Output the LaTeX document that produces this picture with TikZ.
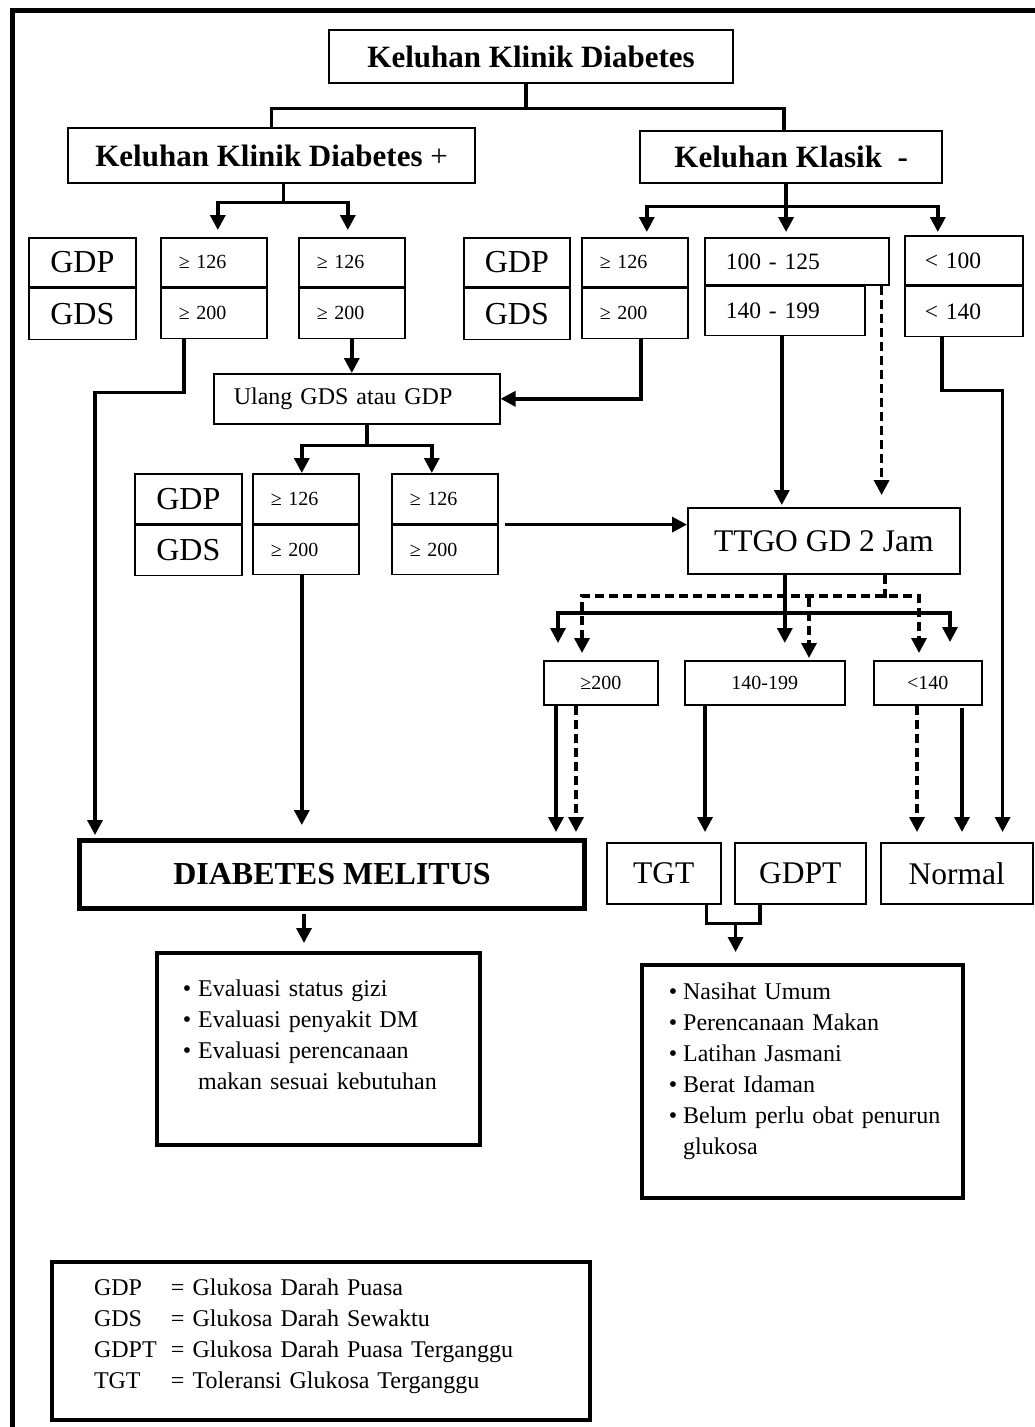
\documentclass[tikz,border=0pt]{standalone}
\usepackage{fontspec}
\setmainfont{Liberation Serif}
\usetikzlibrary{arrows.meta, positioning, calc}

\begin{document}
\begin{tikzpicture}[
  x=1pt, y=-1pt,
  box/.style={rectangle, draw=black, line width=1.6pt, anchor=north west, inner sep=0pt},
  head/.style={box, line width=2.2pt, font=\fontsize{31}{37}\selectfont\bfseries},
  tag/.style={box, minimum width=107pt, font=\fontsize{32}{38}\selectfont},
  cell/.style={box, align=left, inner xsep=18pt, text width=70pt, font=\fontsize{20}{24}\selectfont},
  wide/.style={box, align=left, inner xsep=21pt, font=\fontsize{23.5}{28}\selectfont},
  res/.style={box, font=\fontsize{31.5}{38}\selectfont},
  lvl/.style={box, minimum height=44pt, font=\fontsize{20}{24}\selectfont},
  lst/.style={box, line width=3.5pt, align=left, font=\fontsize{24}{31}\selectfont},
  conn/.style={line width=3.4pt},
  arr/.style={conn, -{Triangle[length=15pt, width=15pt]}},
  both/.style={conn, {Triangle[length=15pt, width=15pt]}-{Triangle[length=15pt, width=15pt]}},
  dconn/.style={conn, dash pattern=on 9pt off 5pt},
  darr/.style={arr, dash pattern=on 9pt off 5pt},
  dboth/.style={both, dash pattern=on 9pt off 5pt}
]
\fill[white] (0,0) rectangle (1035,1427);
\useasboundingbox (0,0) rectangle (1035,1427);
\draw[line width=5pt] (1045,10) -- (12,10) -- (12,1440);

% headers
\node[head, minimum width=404pt, minimum height=53pt] (keluhan) at (328,29) {Keluhan Klinik Diabetes};
\node[head, minimum width=407pt, minimum height=55pt] (kplus) at (67,127) {Keluhan Klinik Diabetes \textnormal{+}};
\node[head, minimum width=302pt, minimum height=52pt] (kmin) at (639,130) {Keluhan Klasik\ \ -};

% first row of values
\node[tag, minimum height=49pt] (gdpA) at (28,237) {GDP};
\node[tag, minimum height=51pt, below=0pt of gdpA] (gdsA) {GDS};
\node[cell, minimum height=49pt] (vA1) at (160,237) {≥ 126};
\node[cell, minimum height=50pt, below=0pt of vA1] (vA2) {≥ 200};
\node[cell, minimum height=49pt] (vB1) at (298,237) {≥ 126};
\node[cell, minimum height=50pt, below=0pt of vB1] (vB2) {≥ 200};
\node[tag, minimum width=106pt, minimum height=49pt] (gdpB) at (463,237) {GDP};
\node[tag, minimum width=106pt, minimum height=51pt, below=0pt of gdpB] (gdsB) {GDS};
\node[cell, minimum height=49pt] (vC1) at (581,237) {≥ 126};
\node[cell, minimum height=50pt, below=0pt of vC1] (vC2) {≥ 200};
\node[wide, text width=142pt, minimum height=47pt] (vD1) at (704,237) {100 - 125};
\node[wide, text width=118pt, minimum height=49pt] (vD2) at (vD1.south west) {140 - 199};
\node[wide, text width=78pt, inner xsep=20pt, minimum height=49pt] (vE1) at (904,235) {< 100};
\node[wide, text width=78pt, inner xsep=20pt, minimum height=50pt, below=0pt of vE1] (vE2) {< 140};

% repeat test
\node[wide, text width=246pt, inner xsep=20pt, minimum height=50pt, font=\fontsize{24}{29}\selectfont] (ulang) at (213,373) {Ulang GDS atau GDP};
\node[tag, minimum height=50pt] (gdpC) at (134,473) {GDP};
\node[tag, minimum height=50pt, below=0pt of gdpC] (gdsC) {GDS};
\node[cell, minimum height=50pt] (vF1) at (252,473) {≥ 126};
\node[cell, minimum height=49pt, below=0pt of vF1] (vF2) {≥ 200};
\node[cell, minimum height=50pt] (vG1) at (391,473) {≥ 126};
\node[cell, minimum height=49pt, below=0pt of vG1] (vG2) {≥ 200};

% glucose tolerance test
\node[res, minimum width=272pt, minimum height=66pt] (ttgo) at (687,507) {TTGO GD 2 Jam};
\node[lvl, minimum width=114pt] (rA) at (543,660) {≥200};
\node[lvl, minimum width=160pt] (rB) at (684,660) {140-199};
\node[lvl, minimum width=108pt] (rC) at (873,660) {<140};

% outcomes
\node[box, line width=5pt, minimum width=505pt, minimum height=68pt, font=\fontsize{32}{38}\selectfont\bfseries] (dm) at (77,838) {DIABETES MELITUS};
\node[res, minimum width=114pt, minimum height=61pt] (tgt) at (606,842) {TGT};
\node[res, minimum width=131pt, minimum height=61pt] (gdpt) at (734,842) {GDPT};
\node[res, minimum width=152pt, minimum height=61pt] (normal) at (880,842) {Normal};

\node[lst, text width=271pt, inner xsep=26pt, text height=44pt, text depth=148pt] (evalL) at (155,951) {%
\begin{tabular}[t]{@{}l@{\hspace{7pt}}l@{}}
•&Evaluasi status gizi\\
•&Evaluasi penyakit DM\\
•&Evaluasi perencanaan\\
 &makan sesuai kebutuhan
\end{tabular}};
\node[lst, text width=267pt, inner xsep=27pt, text height=35pt, text depth=198pt] (evalR) at (640,963) {%
\begin{tabular}[t]{@{}l@{\hspace{6pt}}l@{}}
•&Nasihat Umum\\
•&Perencanaan Makan\\
•&Latihan Jasmani\\
•&Berat Idaman\\
•&Belum perlu obat penurun\\
 &glukosa
\end{tabular}};
\node[lst, line width=4pt, text width=454pt, inner xsep=42pt, text height=33pt, text depth=125pt] (legend) at (50,1260) {%
\begin{tabular}[t]{@{}p{77pt}@{}l@{}}
GDP & = Glukosa Darah Puasa\\
GDS & = Glukosa Darah Sewaktu\\
GDPT & = Glukosa Darah Puasa Terganggu\\
TGT & = Toleransi Glukosa Terganggu
\end{tabular}};

% top split
\draw[conn] ([xshift=-5pt]keluhan.south) -- ++(0,24) coordinate (kt);
\draw[conn] (kplus.north) |- (kt) -| ([xshift=-7pt]kmin.north);

% branch of the positive complaint
\draw[conn] ([xshift=12pt]kplus.south) -- ++(0,18) coordinate (kp);
\draw[arr] (kp) -| ($(vA1.north)+(4,-7)$);
\draw[arr] (kp) -| ($(vB1.north)+(-4,-7)$);
\draw[arr] ($(vA2.south)+(-30,0)$) -- ++(0,53) -| ($(dm.north west)+(18,-3)$);
\draw[arr] (vB2.south) -- (vB2.south |- ulang.north);

% branch of the negative complaint
\draw[conn] ([xshift=-5pt]kmin.south) -- ++(0,22) coordinate (km);
\draw[arr] (km) -| ($(vC1.north)+(12,-5)$);
\draw[arr] (km) -- ($(km |- vD1.north)+(0,-5)$);
\draw[arr] (km) -| ($(vE1.north)+(-26,-3)$);
\draw[arr] ($(vC2.south)+(6,0)$) |- (ulang.east);
\draw[arr] ($(vD2.south)+(-3,0)$) -- ($(vD2.south |- ttgo.north)+(-3,-2)$);
\draw[darr] ($(vD1.south east)+(-8,0)$) -- ($(vD1.south east |- ttgo.north)+(-8,-12)$);
\draw[arr] ($(vE2.south)+(-22,0)$) -- ++(0,53) -| ($(normal.north east)+(-31,-10)$);

% repeated test
\draw[conn] ($(ulang.south)+(10,0)$) -- ++(0,21) coordinate (ub);
\draw[arr] (ub) -| ($(vF1.north)+(-4,0)$);
\draw[arr] (ub) -| ($(vG1.north)+(-13,0)$);
\draw[arr] ($(vF2.south)+(-4,0)$) -- ($(vF2.south |- dm.north)+(-4,-13)$);
\draw[arr] ($(vG1.south east)+(6,0)$) -- (vG1.south east -| ttgo.west);

% results of TTGO
\draw[arr] ($(ttgo.south)+(-39,0)$) -- ($(ttgo.south |- rB.north)+(-39,-17)$);
\draw[both] ($(rA.north west)+(15,-17)$) -- ++(0,-30) -| ($(rC.north west)+(77,-18)$);
\draw[dconn] ($(ttgo.south)+(61,0)$) -- ++(0,23);
\draw[dboth] ($(rA.north west)+(39,-7)$) -- ++(0,-57) -| ($(rC.north west)+(46,-7)$);
\draw[darr] ($(rB.north west)+(125,-62)$) -- ($(rB.north west)+(125,-2)$);

\draw[arr] ($(rA.south west)+(13,0)$) -- ($(rA.south west |- dm.north)+(13,-6)$);
\draw[darr] ($(rA.south west)+(33,0)$) -- ($(rA.south west |- dm.north)+(33,-6)$);
\draw[arr] ($(rB.south west)+(21,0)$) -- ($(rB.south west |- tgt.north)+(21,-10)$);
\draw[darr] ($(rC.south west)+(44,0)$) -- ($(rC.south west |- normal.north)+(44,-10)$);
\draw[arr] ($(rC.south west)+(89,2)$) -- ($(rC.south west |- normal.north)+(89,-10)$);

% to the advice boxes
\draw[arr] ($(dm.south)+(-28,3)$) -- ($(dm.south |- evalL.north)+(-28,-8)$);
\draw[conn] ($(tgt.south east)+(-15,0)$) -- ++(0,19) -| ($(gdpt.south west)+(26,0)$);
\draw[arr] ($(tgt.south east)+(14,19)$) -- ($(tgt.south east |- evalR.north)+(14,-11)$);
\end{tikzpicture}
\end{document}
